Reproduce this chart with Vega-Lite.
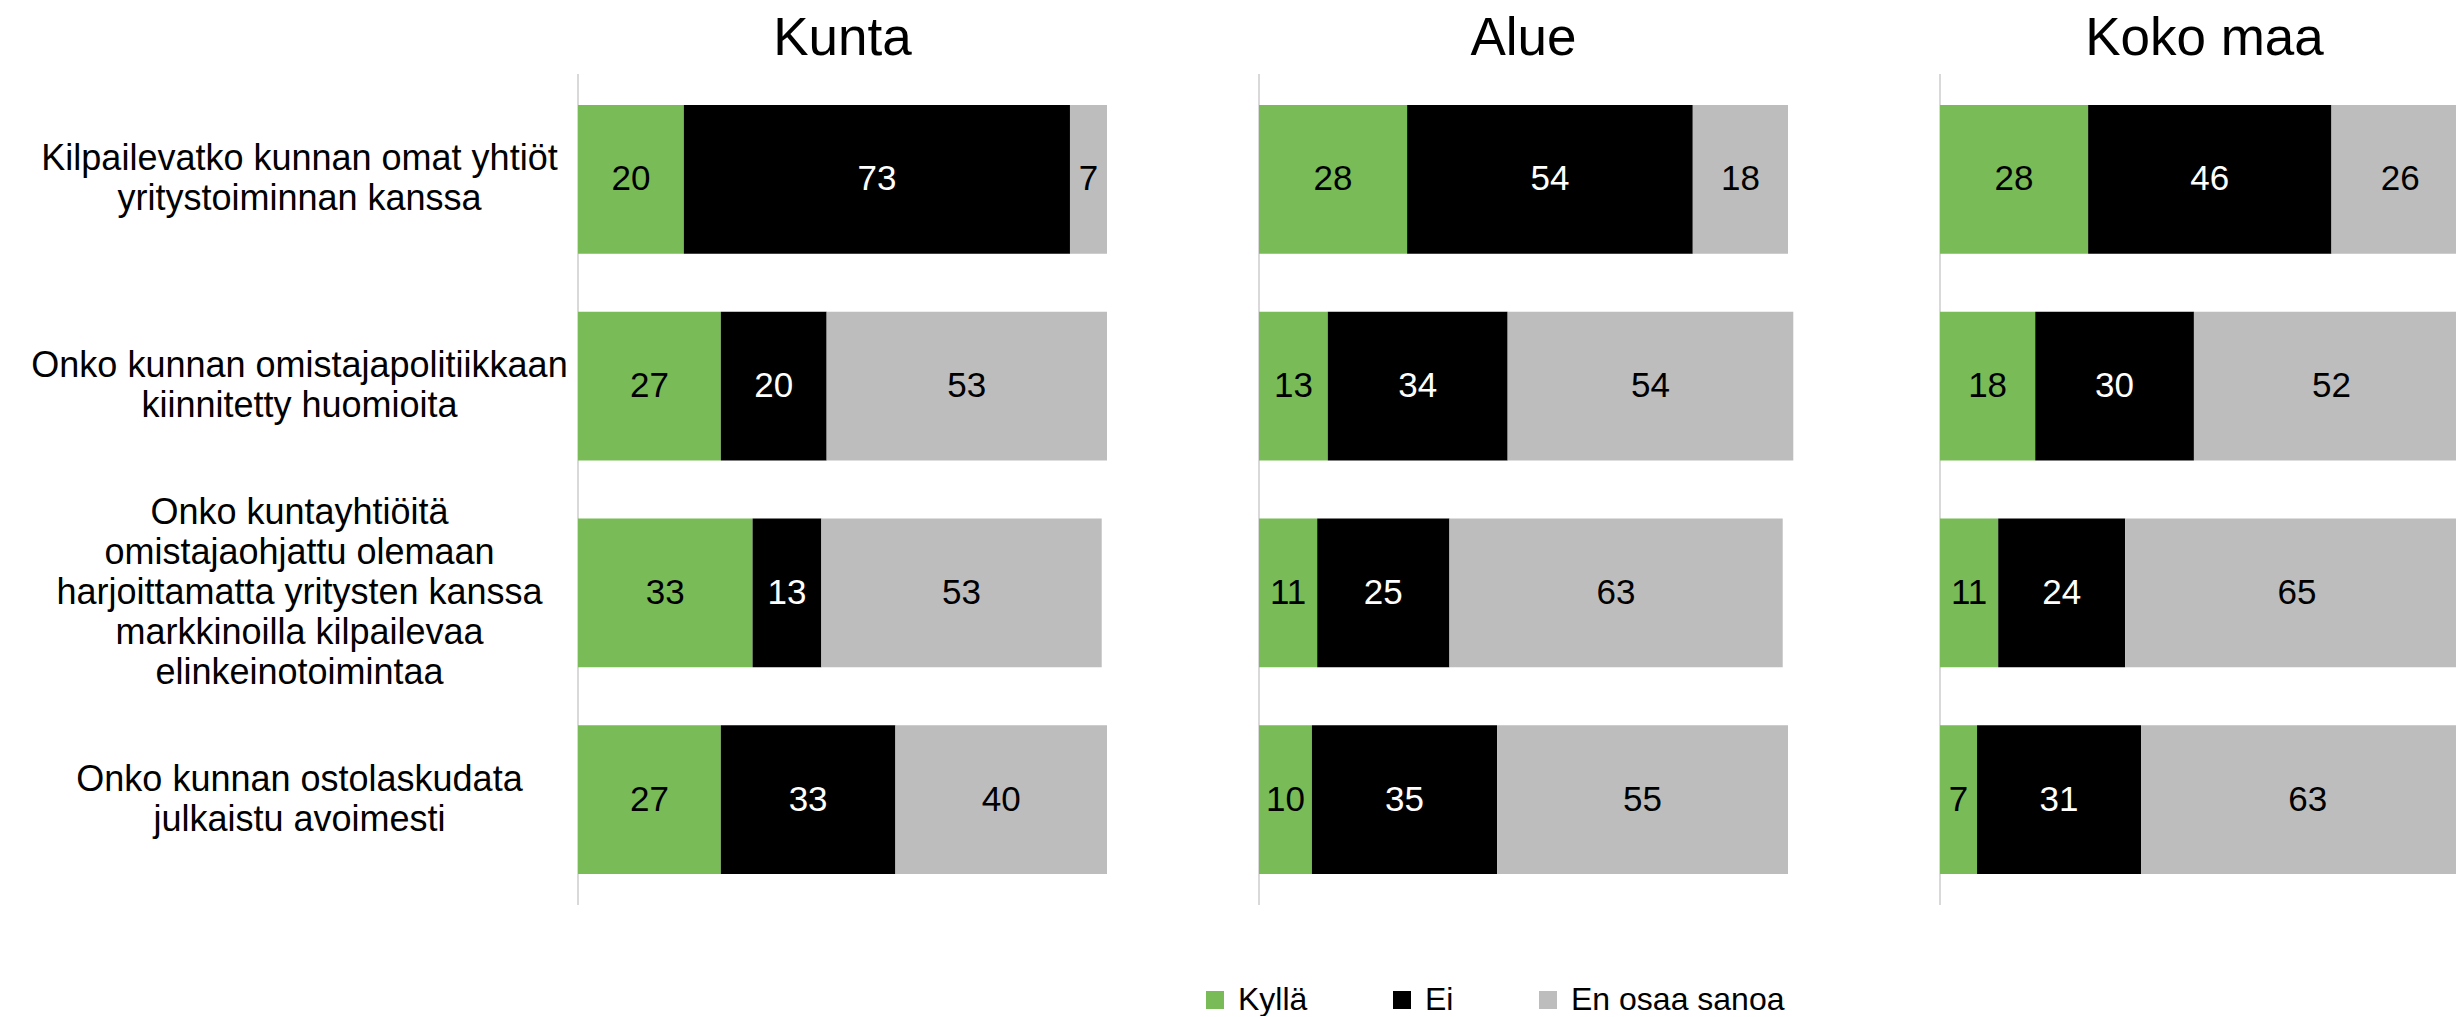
{
  "$schema": "https://vega.github.io/schema/vega-lite/v6.json",
  "background": "white",
  "padding": {"left": 30, "top": 13, "right": 0, "bottom": 0},
  "bounds": "flush",
  "config": {
    "font": "Liberation Sans",
    "view": {"stroke": null},
    "axis": {"labelFont": "Liberation Sans", "labelColor": "black"},
    "legend": {"labelFont": "Liberation Sans"},
    "title": {"fontSize": 53, "font": "Liberation Sans", "fontWeight": "normal", "color": "black", "baseline": "alphabetic", "offset": 7, "anchor": "middle"}
  },
  "data": {
    "values": [
      {"region": "Kunta", "question": "Kilpailevatko kunnan omat yhtiöt|yritystoiminnan kanssa", "answer": "Kyllä", "value": 20},
      {"region": "Kunta", "question": "Kilpailevatko kunnan omat yhtiöt|yritystoiminnan kanssa", "answer": "Ei", "value": 73},
      {"region": "Kunta", "question": "Kilpailevatko kunnan omat yhtiöt|yritystoiminnan kanssa", "answer": "En osaa sanoa", "value": 7},
      {"region": "Kunta", "question": "Onko kunnan omistajapolitiikkaan|kiinnitetty huomioita", "answer": "Kyllä", "value": 27},
      {"region": "Kunta", "question": "Onko kunnan omistajapolitiikkaan|kiinnitetty huomioita", "answer": "Ei", "value": 20},
      {"region": "Kunta", "question": "Onko kunnan omistajapolitiikkaan|kiinnitetty huomioita", "answer": "En osaa sanoa", "value": 53},
      {"region": "Kunta", "question": "Onko kuntayhtiöitä|omistajaohjattu olemaan|harjoittamatta yritysten kanssa|markkinoilla kilpailevaa|elinkeinotoimintaa", "answer": "Kyllä", "value": 33},
      {"region": "Kunta", "question": "Onko kuntayhtiöitä|omistajaohjattu olemaan|harjoittamatta yritysten kanssa|markkinoilla kilpailevaa|elinkeinotoimintaa", "answer": "Ei", "value": 13},
      {"region": "Kunta", "question": "Onko kuntayhtiöitä|omistajaohjattu olemaan|harjoittamatta yritysten kanssa|markkinoilla kilpailevaa|elinkeinotoimintaa", "answer": "En osaa sanoa", "value": 53},
      {"region": "Kunta", "question": "Onko kunnan ostolaskudata|julkaistu avoimesti", "answer": "Kyllä", "value": 27},
      {"region": "Kunta", "question": "Onko kunnan ostolaskudata|julkaistu avoimesti", "answer": "Ei", "value": 33},
      {"region": "Kunta", "question": "Onko kunnan ostolaskudata|julkaistu avoimesti", "answer": "En osaa sanoa", "value": 40},
      {"region": "Alue", "question": "Kilpailevatko kunnan omat yhtiöt|yritystoiminnan kanssa", "answer": "Kyllä", "value": 28},
      {"region": "Alue", "question": "Kilpailevatko kunnan omat yhtiöt|yritystoiminnan kanssa", "answer": "Ei", "value": 54},
      {"region": "Alue", "question": "Kilpailevatko kunnan omat yhtiöt|yritystoiminnan kanssa", "answer": "En osaa sanoa", "value": 18},
      {"region": "Alue", "question": "Onko kunnan omistajapolitiikkaan|kiinnitetty huomioita", "answer": "Kyllä", "value": 13},
      {"region": "Alue", "question": "Onko kunnan omistajapolitiikkaan|kiinnitetty huomioita", "answer": "Ei", "value": 34},
      {"region": "Alue", "question": "Onko kunnan omistajapolitiikkaan|kiinnitetty huomioita", "answer": "En osaa sanoa", "value": 54},
      {"region": "Alue", "question": "Onko kuntayhtiöitä|omistajaohjattu olemaan|harjoittamatta yritysten kanssa|markkinoilla kilpailevaa|elinkeinotoimintaa", "answer": "Kyllä", "value": 11},
      {"region": "Alue", "question": "Onko kuntayhtiöitä|omistajaohjattu olemaan|harjoittamatta yritysten kanssa|markkinoilla kilpailevaa|elinkeinotoimintaa", "answer": "Ei", "value": 25},
      {"region": "Alue", "question": "Onko kuntayhtiöitä|omistajaohjattu olemaan|harjoittamatta yritysten kanssa|markkinoilla kilpailevaa|elinkeinotoimintaa", "answer": "En osaa sanoa", "value": 63},
      {"region": "Alue", "question": "Onko kunnan ostolaskudata|julkaistu avoimesti", "answer": "Kyllä", "value": 10},
      {"region": "Alue", "question": "Onko kunnan ostolaskudata|julkaistu avoimesti", "answer": "Ei", "value": 35},
      {"region": "Alue", "question": "Onko kunnan ostolaskudata|julkaistu avoimesti", "answer": "En osaa sanoa", "value": 55},
      {"region": "Koko maa", "question": "Kilpailevatko kunnan omat yhtiöt|yritystoiminnan kanssa", "answer": "Kyllä", "value": 28},
      {"region": "Koko maa", "question": "Kilpailevatko kunnan omat yhtiöt|yritystoiminnan kanssa", "answer": "Ei", "value": 46},
      {"region": "Koko maa", "question": "Kilpailevatko kunnan omat yhtiöt|yritystoiminnan kanssa", "answer": "En osaa sanoa", "value": 26},
      {"region": "Koko maa", "question": "Onko kunnan omistajapolitiikkaan|kiinnitetty huomioita", "answer": "Kyllä", "value": 18},
      {"region": "Koko maa", "question": "Onko kunnan omistajapolitiikkaan|kiinnitetty huomioita", "answer": "Ei", "value": 30},
      {"region": "Koko maa", "question": "Onko kunnan omistajapolitiikkaan|kiinnitetty huomioita", "answer": "En osaa sanoa", "value": 52},
      {"region": "Koko maa", "question": "Onko kuntayhtiöitä|omistajaohjattu olemaan|harjoittamatta yritysten kanssa|markkinoilla kilpailevaa|elinkeinotoimintaa", "answer": "Kyllä", "value": 11},
      {"region": "Koko maa", "question": "Onko kuntayhtiöitä|omistajaohjattu olemaan|harjoittamatta yritysten kanssa|markkinoilla kilpailevaa|elinkeinotoimintaa", "answer": "Ei", "value": 24},
      {"region": "Koko maa", "question": "Onko kuntayhtiöitä|omistajaohjattu olemaan|harjoittamatta yritysten kanssa|markkinoilla kilpailevaa|elinkeinotoimintaa", "answer": "En osaa sanoa", "value": 65},
      {"region": "Koko maa", "question": "Onko kunnan ostolaskudata|julkaistu avoimesti", "answer": "Kyllä", "value": 7},
      {"region": "Koko maa", "question": "Onko kunnan ostolaskudata|julkaistu avoimesti", "answer": "Ei", "value": 31},
      {"region": "Koko maa", "question": "Onko kunnan ostolaskudata|julkaistu avoimesti", "answer": "En osaa sanoa", "value": 63}
    ]
  },
  "transform": [
    {"calculate": "indexof(['Kyllä', 'Ei', 'En osaa sanoa'], datum.answer)", "as": "answerOrder"}
  ],
  "spacing": 152,
  "hconcat": [
    {
      "width": 529,
      "height": 831,
      "title": "Kunta",
      "transform": [{"filter": "datum.region === 'Kunta'"}],
      "layer": [
        {
          "mark": {"type": "rule", "color": "#D9D9D9", "strokeWidth": 2},
          "encoding": {"x": {"datum": 0, "type": "quantitative", "scale": {"domain": [0, 100], "nice": false}, "axis": null}}
        },
        {
          "mark": {"type": "bar"},
          "encoding": {
            "y": {
              "field": "question", "type": "nominal", "sort": null,
              "scale": {"paddingInner": 0.28, "paddingOuter": 0.15},
              "axis": {
                "title": null, "domain": false, "ticks": false,
                "labelExpr": "split(datum.label, '|')",
                "labelFontSize": 36, "labelLineHeight": 40, "labelAlign": "center", "labelBaseline": "middle",
                "labelPadding": 279, "labelLimit": 0,
                "labelOffset": {"expr": "datum && datum.value ? -(length(split(datum.value, '|')) - 1) * 20 : 0"}
              }
            },
            "x": {"field": "value", "type": "quantitative", "stack": "zero"},
            "order": {"field": "answerOrder", "type": "quantitative", "sort": "ascending"},
            "color": {
              "field": "answer", "type": "nominal",
              "scale": {"domain": ["Kyllä", "Ei", "En osaa sanoa"], "range": ["#79BB56", "#000000", "#BDBDBD"]},
              "legend": {
                "title": null, "orient": "none", "legendX": 621, "legendY": 910,
                "direction": "horizontal", "symbolType": "square", "symbolSize": 324, "symbolStrokeWidth": 0,
                "labelFontSize": 32, "labelColor": "black", "labelOffset": 7, "labelLimit": 0, "columnPadding": 78
              }
            }
          }
        },
        {
          "mark": {"type": "text", "fontSize": 35, "baseline": "middle", "align": "center"},
          "encoding": {
            "y": {"field": "question", "type": "nominal", "sort": null},
            "x": {"field": "value", "type": "quantitative", "stack": "zero", "bandPosition": 0.5},
            "detail": {"field": "answer", "type": "nominal"},
            "order": {"field": "answerOrder", "type": "quantitative", "sort": "ascending"},
            "text": {"field": "value", "type": "quantitative"},
            "color": {"condition": {"test": "datum.answer === 'Ei'", "value": "white"}, "value": "black"}
          }
        }
      ]
    },
    {
      "width": 529,
      "height": 831,
      "title": "Alue",
      "transform": [{"filter": "datum.region === 'Alue'"}],
      "layer": [
        {
          "mark": {"type": "rule", "color": "#D9D9D9", "strokeWidth": 2},
          "encoding": {"x": {"datum": 0, "type": "quantitative", "scale": {"domain": [0, 100], "nice": false}, "axis": null}}
        },
        {
          "mark": {"type": "bar"},
          "encoding": {
            "y": {"field": "question", "type": "nominal", "sort": null, "scale": {"paddingInner": 0.28, "paddingOuter": 0.15}, "axis": null},
            "x": {"field": "value", "type": "quantitative", "stack": "zero"},
            "order": {"field": "answerOrder", "type": "quantitative", "sort": "ascending"},
            "color": {"field": "answer", "type": "nominal", "scale": {"domain": ["Kyllä", "Ei", "En osaa sanoa"], "range": ["#79BB56", "#000000", "#BDBDBD"]}}
          }
        },
        {
          "mark": {"type": "text", "fontSize": 35, "baseline": "middle", "align": "center"},
          "encoding": {
            "y": {"field": "question", "type": "nominal", "sort": null},
            "x": {"field": "value", "type": "quantitative", "stack": "zero", "bandPosition": 0.5},
            "detail": {"field": "answer", "type": "nominal"},
            "order": {"field": "answerOrder", "type": "quantitative", "sort": "ascending"},
            "text": {"field": "value", "type": "quantitative"},
            "color": {"condition": {"test": "datum.answer === 'Ei'", "value": "white"}, "value": "black"}
          }
        }
      ]
    },
    {
      "width": 529,
      "height": 831,
      "title": "Koko maa",
      "transform": [{"filter": "datum.region === 'Koko maa'"}],
      "layer": [
        {
          "mark": {"type": "rule", "color": "#D9D9D9", "strokeWidth": 2},
          "encoding": {"x": {"datum": 0, "type": "quantitative", "scale": {"domain": [0, 100], "nice": false}, "axis": null}}
        },
        {
          "mark": {"type": "bar"},
          "encoding": {
            "y": {"field": "question", "type": "nominal", "sort": null, "scale": {"paddingInner": 0.28, "paddingOuter": 0.15}, "axis": null},
            "x": {"field": "value", "type": "quantitative", "stack": "zero"},
            "order": {"field": "answerOrder", "type": "quantitative", "sort": "ascending"},
            "color": {"field": "answer", "type": "nominal", "scale": {"domain": ["Kyllä", "Ei", "En osaa sanoa"], "range": ["#79BB56", "#000000", "#BDBDBD"]}}
          }
        },
        {
          "mark": {"type": "text", "fontSize": 35, "baseline": "middle", "align": "center"},
          "encoding": {
            "y": {"field": "question", "type": "nominal", "sort": null},
            "x": {"field": "value", "type": "quantitative", "stack": "zero", "bandPosition": 0.5},
            "detail": {"field": "answer", "type": "nominal"},
            "order": {"field": "answerOrder", "type": "quantitative", "sort": "ascending"},
            "text": {"field": "value", "type": "quantitative"},
            "color": {"condition": {"test": "datum.answer === 'Ei'", "value": "white"}, "value": "black"}
          }
        }
      ]
    }
  ]
}
